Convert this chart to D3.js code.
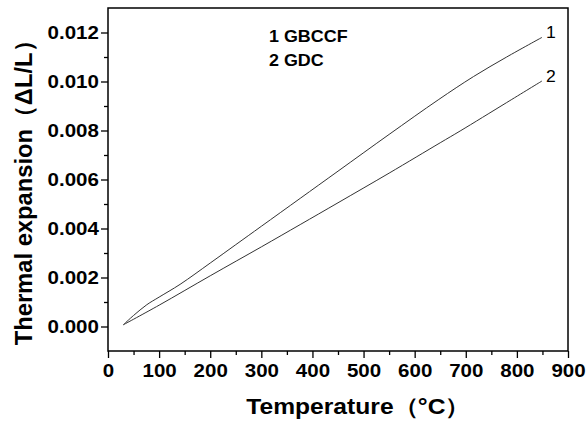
<!DOCTYPE html>
<html>
<head>
<meta charset="utf-8">
<script src="https://cdn.jsdelivr.net/npm/d3@7"></script>
<style>
  body { margin: 0; background: #fff; }
  svg { display: block; }
  text { font-family: "Liberation Sans", Arial, sans-serif; }
</style>
</head>
<body>
<div id="chart"></div>
<script>
// Temperature (°C) and thermal expansion readings
const gbccfTemp = [30, 50, 76, 100, 141, 200, 250, 300, 376, 450, 550, 646, 715, 780, 849];
const gbccfExp  = [0.00007, 0.00045, 0.00089, 0.0012, 0.00172, 0.00259, 0.00334, 0.00409, 0.00523, 0.00634, 0.00784, 0.00925, 0.0102, 0.0110, 0.0118];

const gdcTemp = [30, 100, 200, 300, 376, 450, 550, 650, 689, 780, 849];
const gdcExp  = [0.00007, 0.00087, 0.00207, 0.00325, 0.00416, 0.00505, 0.00626, 0.0075, 0.00798, 0.00914, 0.01002];

const xTicks = [0, 100, 200, 300, 400, 500, 600, 700, 800, 900];
const yTicks = [0, 0.002, 0.004, 0.006, 0.008, 0.010, 0.012];
const legendLines = ['1 GBCCF', '2 GDC'];
const curveLabels = ['1', '2'];

const width = 588, height = 424;
const margin = { top: 8, right: 20, bottom: 73, left: 108 };
const w = width - margin.left - margin.right;
const h = height - margin.top - margin.bottom;

// the original lettering is a little wider than Arial
const stretch = 1.14;

const svg = d3.select('#chart').append('svg')
  .attr('width', width)
  .attr('height', height);

const g = svg.append('g')
  .attr('transform', `translate(${margin.left},${margin.top})`);

const x = d3.scaleLinear().domain([0, 900]).range([0, w]);
const y = d3.scaleLinear().domain([-0.001, 0.013]).range([h, 0]);

// minor ticks
const xMinor = d3.range(50, 900, 100);
const yMinor = d3.range(-0.001, 0.0125, 0.002).filter(v => v > -0.0005);

g.append('g')
  .attr('transform', `translate(0,${h})`)
  .call(d3.axisBottom(x).tickValues(xMinor).tickSize(4).tickFormat(''))
  .call(a => a.select('.domain').remove())
  .selectAll('line').attr('stroke-width', 1.3);

g.append('g')
  .call(d3.axisLeft(y).tickValues(yMinor).tickSize(4).tickFormat(''))
  .call(a => a.select('.domain').remove())
  .selectAll('line').attr('stroke-width', 1.3);

const xAxis = g.append('g')
  .attr('transform', `translate(0,${h})`)
  .call(d3.axisBottom(x).tickValues(xTicks).tickSize(7).tickPadding(6).tickSizeOuter(0));
xAxis.selectAll('text')
  .style('font-size', '18px').style('font-weight', 'bold')
  .attr('transform', `scale(${stretch},1)`);
xAxis.selectAll('line').attr('stroke-width', 1.3);
xAxis.select('.domain').remove();

const yAxis = g.append('g')
  .call(d3.axisLeft(y).tickValues(yTicks).tickFormat(d3.format('.3f')).tickSize(7).tickPadding(1).tickSizeOuter(0));
yAxis.selectAll('text')
  .style('font-size', '18px').style('font-weight', 'bold')
  .attr('transform', `scale(${stretch},1)`);
yAxis.selectAll('line').attr('stroke-width', 1.3);
yAxis.select('.domain').remove();

// frame
g.append('rect')
  .attr('x', 0).attr('y', 0)
  .attr('width', w).attr('height', h)
  .attr('fill', 'none')
  .attr('stroke', '#000')
  .attr('stroke-width', 1.5);

const line = d3.line()
  .x(d => x(d[0]))
  .y(d => y(d[1]))
  .curve(d3.curveCatmullRom.alpha(0.5));

const series = [
  d3.zip(gbccfTemp, gbccfExp),
  d3.zip(gdcTemp, gdcExp)
];

g.selectAll('.curve')
  .data(series)
  .enter().append('path')
  .attr('class', 'curve')
  .attr('d', line)
  .attr('fill', 'none')
  .attr('stroke', '#333')
  .attr('stroke-width', 1);

// curve number labels at line ends
g.selectAll('.clabel')
  .data(series)
  .enter().append('text')
  .attr('class', 'clabel')
  .attr('transform', d => {
    const last = d[d.length - 1];
    return `translate(${x(last[0]) + 4},${y(last[1]) + 1}) scale(1.1,1)`;
  })
  .style('font-size', '16px')
  .text((d, i) => curveLabels[i]);

// legend text
g.selectAll('.legend')
  .data(legendLines)
  .enter().append('text')
  .attr('class', 'legend')
  .attr('transform', (d, i) => `translate(161,${34 + i * 23.5}) scale(1.12,1)`)
  .style('font-weight', 'bold')
  .style('font-size', '16px')
  .text(d => d);

// axis titles
svg.append('text')
  .attr('transform', 'translate(358,414) scale(1.12,1)')
  .attr('text-anchor', 'middle')
  .style('font-weight', 'bold')
  .style('font-size', '22px')
  .text('Temperature（°C）');

svg.append('text')
  .attr('transform', 'translate(32,187) rotate(-90) scale(1.08,1.1)')
  .attr('text-anchor', 'middle')
  .style('font-weight', 'bold')
  .style('font-size', '22px')
  .text('Thermal expansion（ΔL/L）');
</script>
</body>
</html>
